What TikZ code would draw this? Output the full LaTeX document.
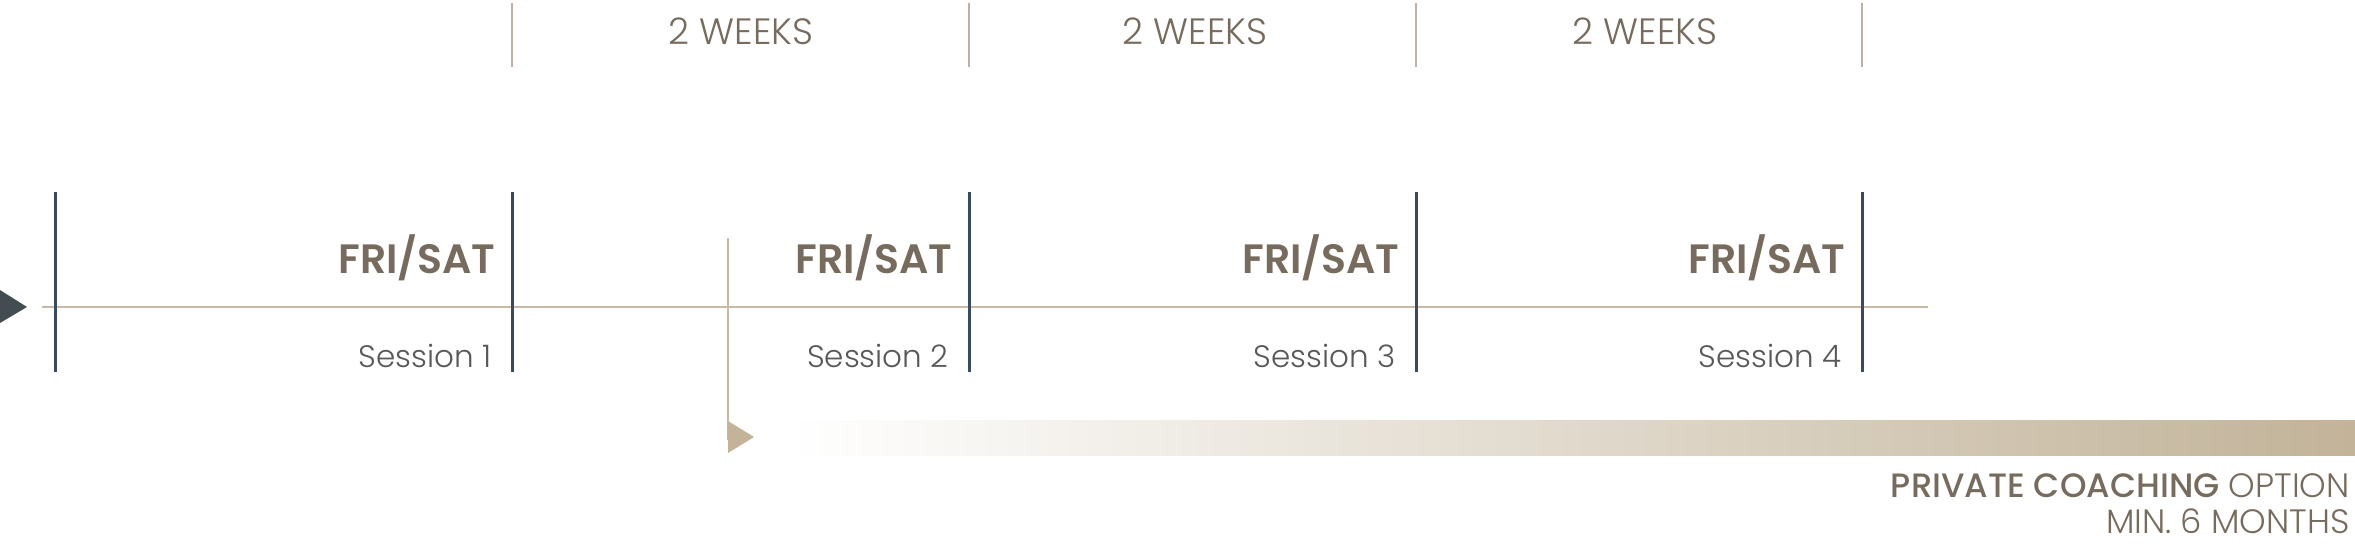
\documentclass[tikz,border=0pt]{standalone}
\usepackage{fontspec}
\setmainfont{Poppins}[UprightFont=* Light, BoldFont=* Medium]
\newfontfamily\semib{Poppins}[UprightFont=* SemiBold]
\definecolor{navy}{HTML}{3B4A63}
\definecolor{beige}{HTML}{C9BAA3}
\definecolor{beigedark}{HTML}{C2B399}
\definecolor{tickc}{HTML}{BFAFA4}
\definecolor{browntxt}{HTML}{766B5D}
\definecolor{graytxt}{HTML}{58585A}
\definecolor{darktri}{HTML}{434C50}
\begin{document}
\begin{tikzpicture}[x=0.5pt,y=-0.5pt,
  sessline/.style={draw=navy,line width=1.5pt},
  tickline/.style={draw=tickc,line width=0.8pt},
  axisline/.style={draw=beige,line width=1pt},
  daylabel/.style={anchor=base east,inner sep=0pt,text=browntxt,font=\fontsize{20.5}{24}\semib},
  seslabel/.style={anchor=base east,inner sep=0pt,text=graytxt,font=\fontsize{15.5}{20}\selectfont},
  weeklabel/.style={anchor=base,inner sep=0pt,text=browntxt,font=\fontsize{18.3}{22}\selectfont},
  coachlabel/.style={anchor=base east,inner sep=0pt,text=browntxt,font=\fontsize{16.9}{21}\selectfont}]
\useasboundingbox (0,0) rectangle (2355,546);
% axis
\coordinate (axisA) at (42,307);
\coordinate (axisB) at (1928,307);
\draw[axisline] (axisA) -- (axisB);
\fill[darktri] (0,290) -- (27,307) -- (0,323) -- cycle;
% session lines
\foreach \i/\x in {0/55,1/512,2/969,3/1416,4/1862}{
  \coordinate (st\i) at (\x,192);
  \coordinate (sb\i) at (\x,372);
  \draw[sessline] (st\i) -- (sb\i);
}
% top ticks
\foreach \i/\x in {1/512,2/969,3/1416,4/1862}{
  \coordinate (tt\i) at (\x,3);
  \coordinate (tb\i) at (\x,67);
  \draw[tickline] (tt\i) -- (tb\i);
}
% week labels
\node[weeklabel] (w1) at (741,44) {2 WEEKS};
\node[weeklabel] (w2) at (1195,44) {2 WEEKS};
\node[weeklabel] (w3) at (1645,44) {2 WEEKS};
% day and session labels
\foreach \i/\x in {1/512,2/969,3/1416,4/1862}{
  \node[daylabel] (d\i) at (\x-16,273) {FRI/SAT};
  \node[seslabel] (s\i) at (\x-20,367) {Session \i};
}
% coaching
\coordinate (cvA) at (728,238);
\coordinate (cvB) at (728,440);
\draw[axisline] (cvA) -- (cvB);
\fill[beigedark] (728,421) -- (754,437) -- (728,453) -- cycle;
\shade[left color=white,right color=beigedark] (790,420) rectangle (2355,455);
\node[coachlabel] (c1) at (2350,497) {\bfseries PRIVATE COACHING\mdseries{} OPTION};
\node[coachlabel] (c2) at (2350,533) {MIN. 6 MONTHS};
\end{tikzpicture}
\end{document}
